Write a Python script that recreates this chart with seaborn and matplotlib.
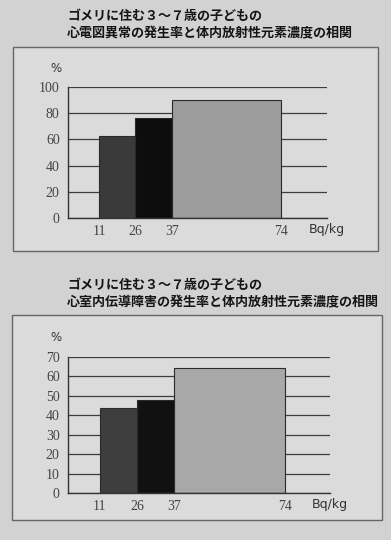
import matplotlib
matplotlib.use("Agg")
import numpy as np
import pandas as pd
import matplotlib.pyplot as plt
import seaborn as sns
from matplotlib.patches import Rectangle

# Data
conc_labels = ["11", "26", "37", "74"]          # Bq/kg boundaries
ecg_rates = [62.5, 76.5, 90.0]                    # 心電図異常 (%)
conduction_rates = [44.0, 48.0, 64.5]             # 心室内伝導障害 (%)
title_top = ["ゴメリに住む３～７歳の子どもの", "心電図異常の発生率と体内放射性元素濃度の相関"]
title_bottom = ["ゴメリに住む３～７歳の子どもの", "心室内伝導障害の発生率と体内放射性元素濃度の相関"]

# layout of the (non-linear) x axis: widths of the three bars
bar_widths = [1, 1, 3]
edges = [0.0] + [float(v) for v in np.cumsum(bar_widths)]
centers = [(edges[i] + edges[i + 1]) / 2 for i in range(len(bar_widths))]

sns.set_style("white")
plt.rcParams["font.family"] = ["Noto Sans CJK JP", "DejaVu Sans"]

W, H = 391, 540
fig = plt.figure(figsize=(W / 100, H / 100), dpi=100, facecolor="#d2d2d2")


def fx(px):
    return px / W


def fy(py):
    return 1 - py / H


def draw_chart(box, axbox, titles, title_y, values, ymax, step, colors, xlim):
    # outer frame of the chart
    x0, y0, x1, y1 = box
    fig.patches.append(Rectangle((fx(x0), fy(y1)), fx(x1 - x0), (y1 - y0) / H,
                                 transform=fig.transFigure, fc="#dbdbdb",
                                 ec="#666666", lw=1.0, zorder=-5))
    for i, t in enumerate(titles):
        fig.text(fx(67), fy(title_y[i]), t, fontsize=9.4, fontweight="bold",
                 color="#151515", va="center", ha="left")

    l, r, b, t = axbox
    ax = fig.add_axes([fx(l), fy(b), fx(r - l), (b - t) / H])
    ax.set_zorder(2)
    ax.patch.set_alpha(0)
    df = pd.DataFrame({"pos": centers, "rate": values, "grp": ["a", "b", "c"]})
    sns.histplot(data=df, x="pos", weights="rate", bins=edges, hue="grp",
                 palette=colors, multiple="layer", alpha=1, edgecolor="#2a2a2a",
                 linewidth=0.8, legend=False, ax=ax)
    ax.set_xlim(*xlim)
    ax.set_ylim(0, ymax)
    ax.set_yticks(np.arange(0, ymax + 1, step))
    ax.set_xticks(edges)
    ax.set_xticklabels(conc_labels)
    ax.set_xlabel("")
    ax.set_ylabel("")
    ax.set_axisbelow(True)
    ax.yaxis.grid(True, color="#3c3c3c", lw=0.9)
    for s in ["top", "right"]:
        ax.spines[s].set_visible(False)
    for s in ["left", "bottom"]:
        ax.spines[s].set_color("#333333")
        ax.spines[s].set_linewidth(1.0)
    ax.tick_params(axis="y", direction="out", length=4, width=0.9, color="#444444",
                   pad=2, labelsize=10, labelcolor="#444444")
    ax.tick_params(axis="x", length=0, pad=5, labelsize=10, labelcolor="#444444")
    for lab in ax.get_xticklabels() + ax.get_yticklabels():
        lab.set_fontfamily("Liberation Serif")
    ax.text(-0.045, 1.14, "%", transform=ax.transAxes, fontsize=8.5,
            fontfamily="DejaVu Sans", color="#333333", ha="center", va="center")
    ax.text(1.0, -0.085, "Bq/kg", transform=ax.transAxes, fontsize=9,
            fontfamily="DejaVu Sans", color="#333333", ha="center", va="center")
    return ax


draw_chart((13, 47, 378, 251), (68, 327, 218, 87), title_top, (16, 33),
           ecg_rates, 100, 20, ["#3a3a3a", "#0d0d0d", "#9c9c9c"], (-0.85, 6.25))
draw_chart((12, 315, 382, 520), (68, 330, 493, 357), title_bottom, (285, 302),
           conduction_rates, 70, 10, ["#3e3e3e", "#111111", "#a8a8a8"], (-0.86, 6.2))

fig.savefig("out.png", dpi=100, facecolor=fig.get_facecolor())
